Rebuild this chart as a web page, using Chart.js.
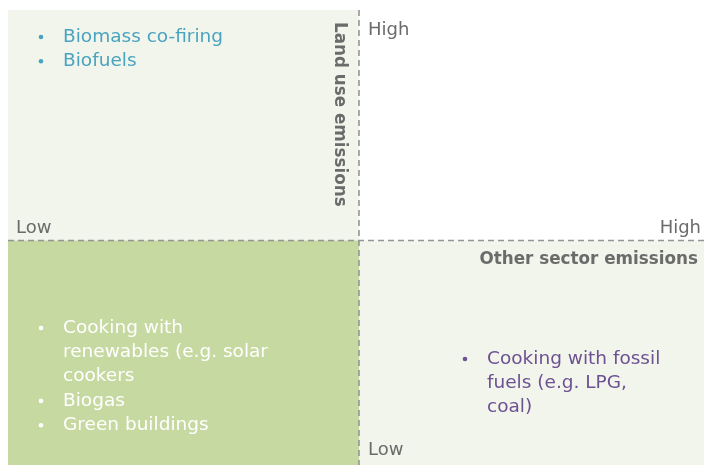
<!DOCTYPE html>
<html>
<head>
<meta charset="utf-8">
<script src="https://cdn.jsdelivr.net/npm/chart.js@4.4.1/dist/chart.umd.min.js"></script>
<style>
  html, body { margin: 0; padding: 0; background: #fff; overflow: hidden; }
  #wrap { width: 704px; height: 465px; overflow: hidden; }
</style>
</head>
<body>
<div id="wrap"><canvas id="chart" width="712" height="472"></canvas></div>
<script>
// x = other sector emissions, y = land use emissions, 0..1 low, 1..2 high
const levelLabels = ['Low', 'High'];
const xAxisTitle = 'Other sector emissions';
const yAxisTitle = 'Land use emissions';

// shaded quadrants: [xFrom, xTo, yFrom, yTo]
const quadrantBoxes = [[0, 1, 1, 2], [0, 1, 0, 1], [1, 2, 0, 1]];
const quadrantColors = ['#f2f5ec', '#c6d9a1', '#f2f5ec'];

// bullet lists (each bullet may wrap over several lines)
const highLandLowOther = [['Biomass co-firing'], ['Biofuels']];
const lowLandLowOther = [['Cooking with', 'renewables (e.g. solar', 'cookers'], ['Biogas'], ['Green buildings']];
const lowLandHighOther = [['Cooking with fossil', 'fuels (e.g. LPG,', 'coal)']];

const FONT = '"DejaVu Sans", sans-serif';
const GREY = '#6b6b6b';

function drawList(ctx, items, x, y, color) {
    ctx.fillStyle = color;
    ctx.font = '18.5px ' + FONT;
    ctx.textBaseline = 'middle';
    ctx.textAlign = 'left';
    let line = 0;
    items.forEach(item => {
        ctx.beginPath();
        ctx.arc(x, y + line * 24.3, 2.3, 0, Math.PI * 2);
        ctx.fill();
        item.forEach(t => {
            ctx.fillText(t, x + 22, y + line * 24.3);
            line++;
        });
    });
}

const quadrantPlugin = {
    id: 'quadrants',
    beforeDatasetsDraw(chart) {
        const { ctx, scales: { x, y } } = chart;
        ctx.save();
        quadrantBoxes.forEach((b, i) => {
            const x0 = x.getPixelForValue(b[0]), x1 = x.getPixelForValue(b[1]);
            const y0 = y.getPixelForValue(b[3]), y1 = y.getPixelForValue(b[2]);
            ctx.fillStyle = quadrantColors[i];
            ctx.fillRect(x0, y0, x1 - x0, y1 - y0);
        });

        // dashed dividers
        const mx = x.getPixelForValue(1), my = y.getPixelForValue(1);
        ctx.strokeStyle = '#959595';
        ctx.lineWidth = 1.6;
        ctx.setLineDash([6, 4]);
        ctx.beginPath();
        ctx.moveTo(mx, y.getPixelForValue(2));
        ctx.lineTo(mx, y.getPixelForValue(0));
        ctx.moveTo(x.getPixelForValue(0), my);
        ctx.lineTo(x.getPixelForValue(2), my);
        ctx.stroke();
        ctx.setLineDash([]);

        // level labels
        ctx.fillStyle = GREY;
        ctx.font = '18px ' + FONT;
        ctx.textBaseline = 'middle';
        ctx.textAlign = 'left';
        ctx.fillText(levelLabels[1], mx + 9, y.getPixelForValue(2) + 20);
        ctx.fillText(levelLabels[0], mx + 9, y.getPixelForValue(0) - 21);
        ctx.fillText(levelLabels[0], x.getPixelForValue(0) + 8, my - 12);
        ctx.textAlign = 'right';
        ctx.fillText(levelLabels[1], 701, my - 12);

        // axis titles
        ctx.font = 'bold 16.8px ' + FONT;
        ctx.fillText(xAxisTitle, 698, my + 19);
        ctx.save();
        ctx.translate(mx - 20, y.getPixelForValue(2) + 12);
        ctx.rotate(Math.PI / 2);
        ctx.textAlign = 'left';
        ctx.fillText(yAxisTitle, 0, 0);
        ctx.restore();

        drawList(ctx, highLandLowOther, 41, 37, '#4aa3bf');
        drawList(ctx, lowLandLowOther, 41, 328, '#ffffff');
        drawList(ctx, lowLandHighOther, 465, 359, '#6e5192');
        ctx.restore();
    }
};

new Chart(document.getElementById('chart'), {
    type: 'scatter',
    data: { datasets: [{ data: [], pointRadius: 0 }] },
    options: {
        responsive: false,
        animation: false,
        layout: { padding: { left: 8, right: 2, top: 10, bottom: 1 } },
        plugins: { legend: { display: false }, tooltip: { enabled: false } },
        scales: {
            x: { type: 'linear', min: 0, max: 2, display: false },
            y: { type: 'linear', min: 0, max: 2, display: false }
        }
    },
    plugins: [quadrantPlugin]
});
</script>
</body>
</html>
